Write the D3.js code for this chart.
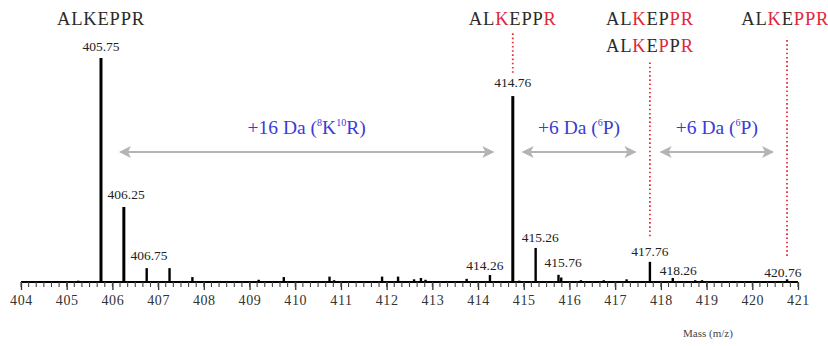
<!DOCTYPE html>
<html>
<head>
<meta charset="utf-8">
<script src="https://cdn.jsdelivr.net/npm/d3@7"></script>
<style>
  html, body { margin: 0; padding: 0; background: #fff; }
  svg { display: block; font-family: "Liberation Serif", "DejaVu Serif", serif; }
</style>
</head>
<body>
<svg id="chart" width="828" height="346"></svg>
<script>
// Centroid m/z of each peak and its relative intensity (%)
const peakMz = [405.25, 405.75, 406.25, 406.75, 407.25, 407.75, 409.2, 409.75, 410.75, 410.85,
                411.9, 412.25, 412.6, 412.75, 412.85, 413.75, 414.26, 414.76, 414.9, 415.26,
                415.76, 415.82, 416.25, 416.75, 417.25, 417.76, 418.26, 418.75, 418.9, 420.76];
const peakIntensity = [0.6, 100, 33.5, 6.2, 6.2, 2.2, 1.0, 2.2, 2.4, 0.8,
                       2.4, 2.4, 1.2, 1.8, 1.0, 1.4, 3.1, 83, 0.6, 15.2,
                       3.2, 2.0, 0.8, 0.8, 1.2, 9.0, 1.8, 0.8, 0.8, 1.2];

// Labelled peaks: text and where the label sits (m/z of centre, intensity of baseline)
const labelText = ["405.75", "406.25", "406.75", "414.26", "414.76", "415.26", "415.76", "417.76", "418.26", "420.76"];
const labelMz   = [405.75, 406.3, 406.8, 414.15, 414.76, 415.36, 415.86, 417.76, 418.38, 420.67];
const labelInt  = [103, 37, 9.8, 5.4, 87, 17.9, 6.7, 11.6, 3.2, 2.4];

// Peptide annotations (letters coloured red where a heavy residue sits)
const peptideMz  = [405.75, 414.76, 417.76, 417.76, 420.72];
const peptideRow = [0, 0, 0, 1, 0];
const peptideRed = [[], [2, 6], [2, 5, 6], [2, 4, 6], [2, 4, 5, 6]];
const peptideSeq = "ALKEPPR";

// Red dotted guides: m/z, top and bottom intensity
const guideMz  = [414.76, 417.76, 420.76];
const guideTop = [111, 98, 108];
const guideBot = [92.4, 19.6, 10.7];

// Mass-shift arrows
const shiftFrom = [406.17, 414.98, 418.0];
const shiftTo   = [414.33, 417.44, 420.45];
const shiftMain = ["+16 Da (", "+6 Da (", "+6 Da ("];

// Axis ticks
const majorTicks = d3.range(404, 422, 1);
const minorTicks = d3.range(0, 17 * 6 + 1).map(i => 404 + i / 6);

const svg = d3.select("#chart");
const x = d3.scaleLinear().domain([404, 421]).range([21, 798]);
const y = d3.scaleLinear().domain([0, 100]).range([282, 58]);

// Peaks
svg.append("g").selectAll("line").data(peakMz).join("line")
  .attr("x1", d => x(d)).attr("x2", d => x(d))
  .attr("y1", y(0)).attr("y2", (d, i) => y(peakIntensity[i]))
  .attr("stroke", "#000")
  .attr("stroke-width", (d, i) => peakIntensity[i] > 20 ? 3 : 2.4);

// Axis
const axis = d3.axisBottom(x).tickValues(majorTicks).tickFormat(d3.format("d"))
  .tickSize(8).tickPadding(5);
const gx = svg.append("g").attr("transform", `translate(0,${y(0)})`).call(axis);
gx.select(".domain").attr("stroke", "#000").attr("stroke-width", 2.2).attr("d", `M${x(404)},0H${x(421)}`);
gx.selectAll(".tick line").attr("stroke", "#333").attr("stroke-width", 1.3);
gx.selectAll(".tick text").attr("fill", "#333").attr("font-size", 14).attr("letter-spacing", 0.6)
  .attr("font-family", "Liberation Serif, serif");
gx.append("g").selectAll("line").data(minorTicks).join("line")
  .attr("x1", d => x(d)).attr("x2", d => x(d)).attr("y1", 0).attr("y2", 5)
  .attr("stroke", "#444").attr("stroke-width", 1.1);

svg.append("text").attr("x", 708).attr("y", 337).attr("text-anchor", "middle")
  .attr("font-size", 11).attr("fill", "#444").text("Mass (m/z)");

// Peak value labels
svg.append("g").selectAll("text").data(labelText).join("text")
  .attr("x", (d, i) => x(labelMz[i])).attr("y", (d, i) => y(labelInt[i]))
  .attr("text-anchor", "middle").attr("font-size", 13.5).attr("fill", "#222")
  .text(d => d);

// Red dotted guides
svg.append("g").selectAll("line").data(guideMz).join("line")
  .attr("x1", d => x(d)).attr("x2", d => x(d))
  .attr("y1", (d, i) => y(guideTop[i])).attr("y2", (d, i) => y(guideBot[i]))
  .attr("stroke", "#e8323c").attr("stroke-width", 1.8).attr("stroke-dasharray", "1.6,2.6");

// Peptide annotations
const pep = svg.append("g").selectAll("text").data(peptideMz).join("text")
  .attr("x", d => x(d)).attr("y", (d, i) => 25 + peptideRow[i] * 27)
  .attr("text-anchor", "middle").attr("font-size", 18.5).attr("letter-spacing", 0.8);
pep.each(function(d, i) {
  const t = d3.select(this);
  peptideSeq.split("").forEach((c, k) => {
    t.append("tspan").attr("fill", peptideRed[i].includes(k) ? "#e0283a" : "#2a2a2a").text(c);
  });
});

// Mass-shift arrows
svg.append("defs").append("marker").attr("id", "head")
  .attr("viewBox", "0 0 10 10").attr("refX", 9).attr("refY", 5)
  .attr("markerWidth", 14).attr("markerHeight", 12).attr("markerUnits", "userSpaceOnUse")
  .attr("orient", "auto-start-reverse")
  .append("path").attr("d", "M0,0L10,5L0,10L2.5,5Z").attr("fill", "#b4b4b4");

const arrowY = 152;
svg.append("g").selectAll("line").data(shiftFrom).join("line")
  .attr("x1", d => x(d)).attr("x2", (d, i) => x(shiftTo[i]))
  .attr("y1", arrowY).attr("y2", arrowY)
  .attr("stroke", "#b4b4b4").attr("stroke-width", 2)
  .attr("marker-start", "url(#head)").attr("marker-end", "url(#head)");

const shiftLabels = svg.append("g").selectAll("text").data(shiftFrom).join("text")
  .attr("x", (d, i) => (x(d) + x(shiftTo[i])) / 2).attr("y", 134)
  .attr("text-anchor", "middle").attr("font-size", 19.5).attr("fill", "#3b3bd6");
shiftLabels.each(function(d, i) {
  const t = d3.select(this);
  t.append("tspan").text(shiftMain[i]);
  if (i === 0) {
    t.append("tspan").attr("font-size", 10).attr("dy", -8).text("8");
    t.append("tspan").attr("dy", 8).text("K");
    t.append("tspan").attr("font-size", 10).attr("dy", -8).text("10");
    t.append("tspan").attr("dy", 8).text("R)");
  } else {
    t.append("tspan").attr("font-size", 10).attr("dy", -8).text("6");
    t.append("tspan").attr("dy", 8).text("P)");
  }
});
</script>
</body>
</html>
